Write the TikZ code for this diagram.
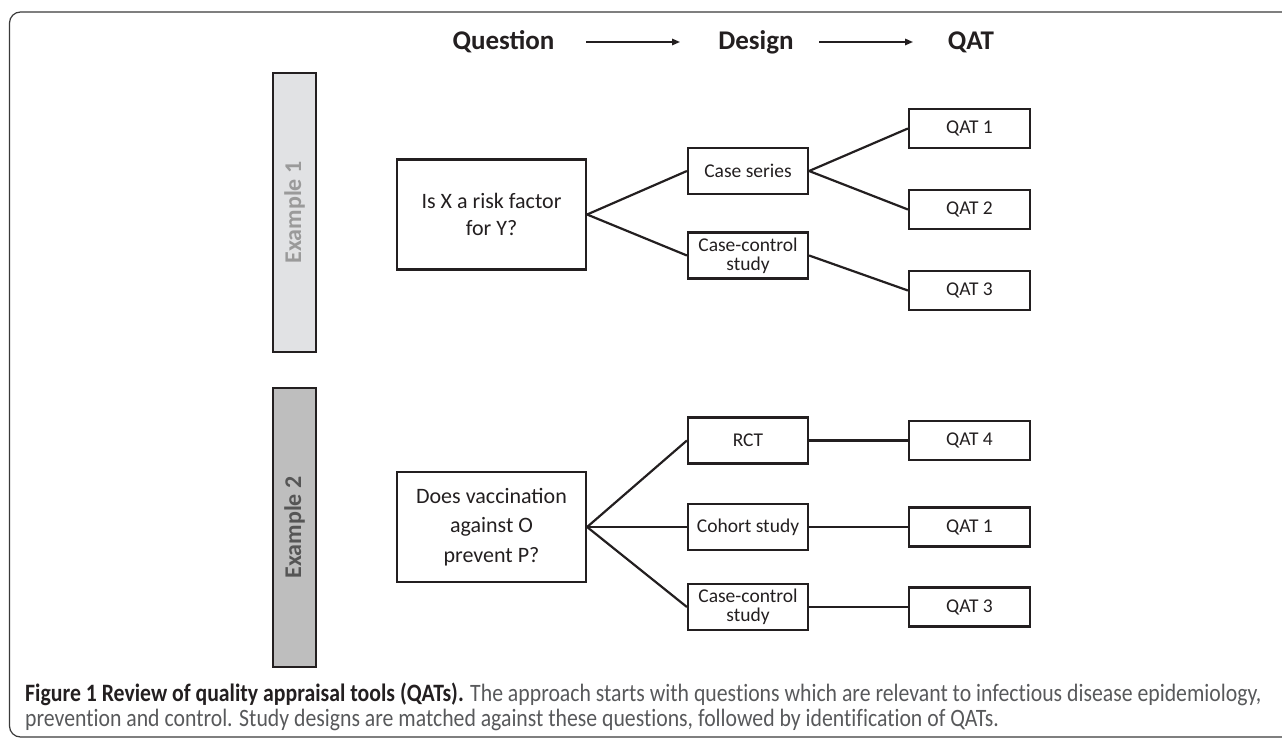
\documentclass[tikz,border=0pt]{standalone}
\usepackage{fontspec}
\setmainfont{Carlito}
\newfontfamily\capfont[FakeStretch=0.87,Ligatures=NoCommon]{Carlito}
\usetikzlibrary{arrows.meta}
\definecolor{ink}{HTML}{231F20}
\definecolor{framec}{HTML}{3A3A3A}
\definecolor{barone}{HTML}{E1E2E4}
\definecolor{bartwo}{HTML}{BEBEBE}
\definecolor{labone}{HTML}{9A9A9A}
\definecolor{labtwo}{HTML}{555555}
\definecolor{capgray}{HTML}{58595B}
\begin{document}
\begin{tikzpicture}[x=1pt,y=-1pt,
  box/.style={draw=ink,line width=2.2pt,inner sep=0pt,align=center,text=ink},
  qbox/.style={box,minimum width=189pt,minimum height=110pt},
  dbox/.style={box,minimum width=120pt,minimum height=46pt,font=\fontsize{19.5}{19}\selectfont},
  tbox/.style={box,minimum width=121pt,minimum height=39pt,font=\fontsize{19.5}{19}\selectfont},
  bar/.style={draw=ink,line width=2.2pt,minimum width=43pt,minimum height=279pt,inner sep=0pt},
  head/.style={font=\fontsize{27}{30}\selectfont\bfseries,text=ink,inner sep=0pt},
  link/.style={draw=ink,line width=2.2pt},
  harrow/.style={draw=ink,line width=1.6pt,-{Triangle[length=8pt,width=6.5pt]}},
  capline/.style={anchor=base west,inner sep=0pt,font=\capfont\fontsize{25}{25}\selectfont,text=capgray}
]
\useasboundingbox (0,0) rectangle (1282,738);
\begin{scope}
\clip (0,0) rectangle (1282,738);
\draw[framec,line width=1.2pt,rounded corners=11pt] (9.5,12) rectangle (1300,737);
\end{scope}

% header
\node[head] (hq) at (503.5,42) {Question};
\node[head] (hd) at (756,42) {Design};
\node[head] (ht) at (971,42) {QAT};
\coordinate (a1s) at (586,42);
\coordinate (a1e) at (680,42);
\coordinate (a2s) at (819,42);
\coordinate (a2e) at (913,42);
\draw[harrow] (a1s) -- (a1e);
\draw[harrow] (a2s) -- (a2e);

% example bars
\node[bar,fill=barone] (e1) at (294.5,212.5) {};
\node[rotate=90,font=\fontsize{24}{26}\selectfont\bfseries,text=labone] (e1t) at (e1.center) {Example 1};
\node[bar,fill=bartwo] (e2) at (294.5,527.5) {};
\node[rotate=90,font=\fontsize{24}{26}\selectfont\bfseries,text=labtwo] (e2t) at (e2.center) {Example 2};

% example 1
\node[qbox,font=\fontsize{22}{26.7}\selectfont] (q1) at (491.5,214.5) {Is X a risk factor\\for Y?};
\node[dbox] (cs) at (748,171) {Case series};
\node[dbox] (cc1) at (748,255.5) {Case-control\\study};
\node[tbox] (qa1) at (969.5,128.5) {QAT 1};
\node[tbox] (qa2) at (969.5,209.5) {QAT 2};
\node[tbox] (qa3) at (969.5,290.5) {QAT 3};
\draw[link] (q1.east) -- (cs.west);
\draw[link] (q1.east) -- (cc1.west);
\draw[link] (cs.east) -- (qa1.west);
\draw[link] (cs.east) -- (qa2.west);
\draw[link] (cc1.east) -- (qa3.west);

% example 2
\node[qbox,font=\fontsize{22}{29.5}\selectfont] (q2) at (491.5,527) {Does vaccination\\against O\\prevent P?};
\node[dbox] (rct) at (748,440.5) {RCT};
\node[dbox] (coh) at (748,527) {Cohort study};
\node[dbox] (cc2) at (748,607) {Case-control\\study};
\node[tbox] (qa4) at (969.5,440.5) {QAT 4};
\node[tbox] (qb1) at (969.5,527) {QAT 1};
\node[tbox] (qb3) at (969.5,607) {QAT 3};
\draw[link] (q2.east) -- (rct.west);
\draw[link] (q2.east) -- (coh.west);
\draw[link] (q2.east) -- (cc2.west);
\draw[link] (rct.east) -- (qa4.west);
\draw[link] (coh.east) -- (qb1.west);
\draw[link] (cc2.east) -- (qb3.west);

% caption
\node[capline] (cap1) at (25,701)
  {\textcolor{ink}{\bfseries Figure 1 Review of quality appraisal tools (QATs).} The approach starts with questions which are relevant to infectious disease epidemiology,};
\node[capline] (cap2) at (25,726)
  {prevention and control. Study designs are matched against these questions, followed by identification of QATs.};
\end{tikzpicture}
\end{document}
